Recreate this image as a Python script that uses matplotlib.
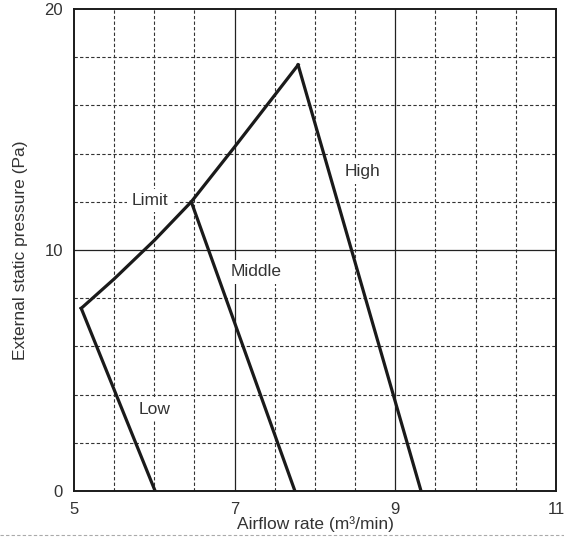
import matplotlib
matplotlib.use('Agg')
import matplotlib.pyplot as plt
from matplotlib.lines import Line2D
import numpy as np

plt.rcParams['font.family'] = ['Liberation Sans', 'DejaVu Sans']

# fan curves, airflow (m3/min) vs external static pressure (Pa)
limit_x = [5.09, 5.50, 6.00, 6.46, 7.00, 7.79]
limit_y = [7.58, 8.8, 10.4, 12.0, 14.28, 17.68]
high_x = [7.79, 9.32]
high_y = [17.68, 0.0]
middle_x = [6.46, 7.75]
middle_y = [12.0, 0.0]
low_x = [5.09, 6.01]
low_y = [7.58, 0.0]

x_ticks = [5, 7, 9, 11]
y_ticks = [0, 10, 20]
x_minor = [5.5, 6, 6.5, 7.5, 8, 8.5, 9.5, 10, 10.5]
y_minor = [2, 4, 6, 8, 12, 14, 16, 18]

labels = {'Limit': (5.72, 12.05), 'Middle': (6.95, 9.1), 'High': (8.37, 13.25), 'Low': (5.81, 3.4)}

fig = plt.figure(figsize=(5.64, 5.37), dpi=100)
ax = fig.add_axes([0.1312, 0.0857, 0.8546, 0.8975])
ax.set_xlim(5, 11)
ax.set_ylim(0, 20)

dash_col = '#333333'
for xv in x_minor:
    ax.axvline(xv, color=dash_col, lw=0.8, ls=(0, (3, 2)), zorder=1)
for yv in y_minor:
    ax.axhline(yv, color=dash_col, lw=0.8, ls=(0, (3, 2)), zorder=1)
for xv in x_ticks[1:-1]:
    ax.axvline(xv, color='#222222', lw=0.9, zorder=1)
for yv in y_ticks[1:-1]:
    ax.axhline(yv, color='#222222', lw=0.9, zorder=1)

for xs, ys in [(limit_x, limit_y), (high_x, high_y), (middle_x, middle_y), (low_x, low_y)]:
    ax.plot(xs, ys, color='#1a1a1a', lw=2.3, solid_joinstyle='miter', zorder=3)

for name, (tx, ty) in labels.items():
    ax.text(tx, ty, name, fontsize=12.5, color='#333333', ha='left', va='center', zorder=2,
            bbox=dict(boxstyle='square,pad=0.25', fc='white', ec='none'))

ax.set_xticks(x_ticks)
ax.set_yticks(y_ticks)
ax.tick_params(length=0, labelsize=12, labelcolor='#333333', pad=8)
for s in ax.spines.values():
    s.set_linewidth(1.4)
    s.set_color('#1a1a1a')

ax.set_xlabel('Airflow rate (m³/min)', fontsize=12.5, color='#333333', labelpad=-1)
ax.set_ylabel('External static pressure (Pa)', fontsize=12.5, color='#333333', labelpad=12)

# separator line under the chart
fig.add_artist(Line2D([0, 1], [0.003, 0.003], transform=fig.transFigure,
                      color='#aaaaaa', lw=0.8, ls=(0, (3, 2))))

fig.savefig('out.png', dpi=100)
